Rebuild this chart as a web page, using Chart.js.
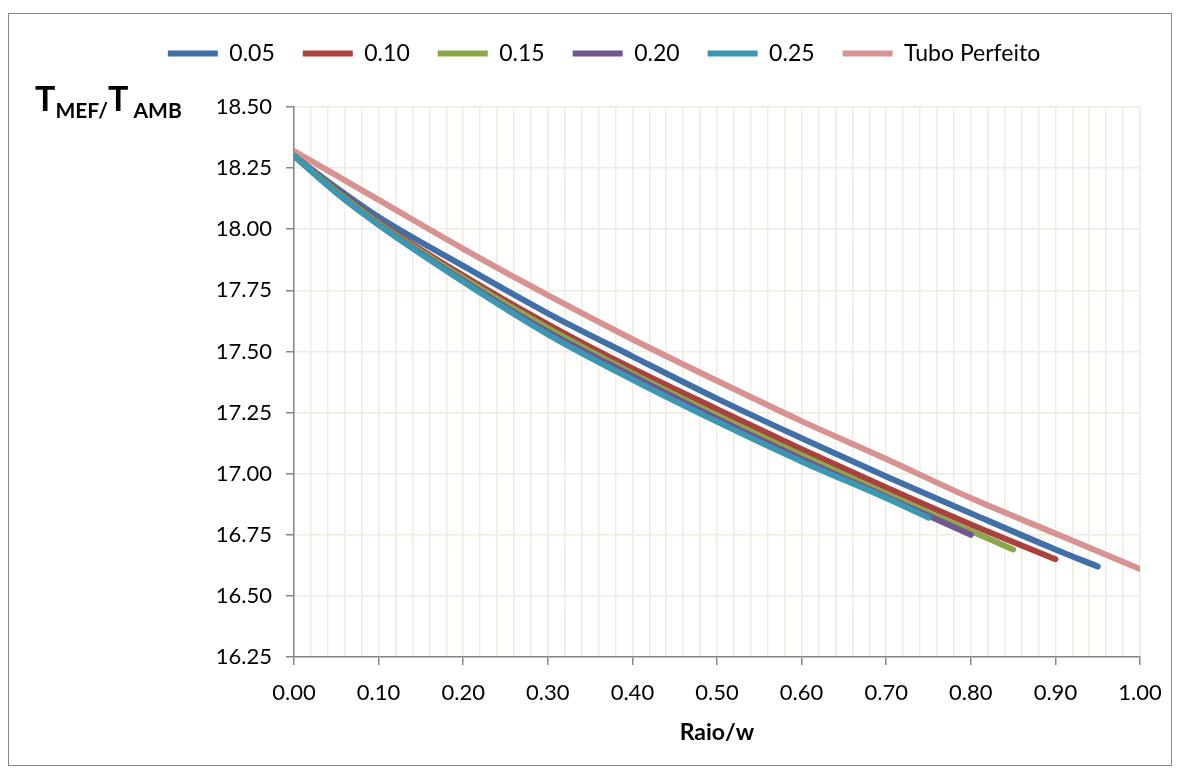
<!DOCTYPE html>
<html>
<head>
<meta charset="utf-8">
<script src="https://cdn.jsdelivr.net/npm/chart.js@4.4.1/dist/chart.umd.min.js"></script>
<style>
html, body { margin: 0; padding: 0; background: #fff; }
</style>
</head>
<body>
<canvas id="tempChart" width="1181" height="774"></canvas>
<script>
// values
const seriesNames = ['0.05', '0.10', '0.15', '0.20', '0.25', 'Tubo Perfeito'];

const raio005 = [0, 0.05, 0.10, 0.20, 0.30, 0.40, 0.50, 0.60, 0.70, 0.80, 0.90, 0.95];
const temp005 = [18.30, 18.17, 18.05, 17.85, 17.656, 17.48, 17.307, 17.145, 16.988, 16.838, 16.69, 16.62];

const raio010 = [0, 0.05, 0.10, 0.20, 0.30, 0.40, 0.50, 0.60, 0.70, 0.80, 0.90];
const temp010 = [18.30, 18.16, 18.03, 17.81, 17.611, 17.43, 17.264, 17.10, 16.943, 16.792, 16.65];

const raio015 = [0, 0.05, 0.10, 0.20, 0.30, 0.40, 0.50, 0.60, 0.70, 0.80, 0.85];
const temp015 = [18.30, 18.155, 18.025, 17.80, 17.595, 17.41, 17.238, 17.075, 16.917, 16.765, 16.69];

const raio020 = [0, 0.05, 0.10, 0.20, 0.30, 0.40, 0.50, 0.60, 0.70, 0.80];
const temp020 = [18.30, 18.15, 18.02, 17.79, 17.58, 17.40, 17.225, 17.06, 16.905, 16.75];

const raio025 = [0, 0.05, 0.10, 0.20, 0.30, 0.40, 0.50, 0.60, 0.70, 0.75];
const temp025 = [18.30, 18.15, 18.018, 17.785, 17.57, 17.385, 17.213, 17.05, 16.90, 16.82];

const raioTubo = [0, 0.10, 0.20, 0.30, 0.40, 0.50, 0.60, 0.70, 0.80, 0.90, 1.00];
const tempTubo = [18.32, 18.12, 17.92, 17.73, 17.55, 17.38, 17.215, 17.06, 16.90, 16.755, 16.61];

const yTicks = [16.25, 16.50, 16.75, 17.00, 17.25, 17.50, 17.75, 18.00, 18.25, 18.50];

const colors = ['#4170a8', '#a9413e', '#8aa84b', '#71568f', '#3d97b0', '#d69391'];
const allRaio = [raio005, raio010, raio015, raio020, raio025, raioTubo];
const allTemp = [temp005, temp010, temp015, temp020, temp025, tempTubo];
// later series sit on top, the tube curve sits underneath
const drawOrder = [5, 4, 3, 2, 1, 6];

const fontFamily = 'Lato, "Open Sans", sans-serif';
const axisGray = '#868686';
const gridColor = '#eeebe1';

function isMajor(v) {
  return Math.abs(Math.round(v * 10) - v * 10) < 1e-6;
}

const datasets = seriesNames.map((name, i) => ({
  label: name,
  data: allRaio[i].map((r, k) => ({ x: r, y: allTemp[i][k] })),
  borderColor: colors[i],
  backgroundColor: colors[i],
  borderWidth: 6,
  borderCapStyle: 'round',
  pointRadius: 0,
  cubicInterpolationMode: 'monotone',
  order: drawOrder[i]
}));

const frame = {
  id: 'frame',
  afterDraw(chart) {
    const c = chart.ctx;
    c.save();
    c.strokeStyle = '#8a8a8a';
    c.lineWidth = 1;
    c.strokeRect(8.5, 13.5, 1163, 752);

    // y axis title with subscripts
    c.fillStyle = '#000';
    c.textBaseline = 'alphabetic';
    const parts = [['T', 34, 0], ['MEF/', 21, 7], ['T', 34, 0], [' AMB', 21, 7]];
    let x = 35;
    parts.forEach(([t, size, dy]) => {
      c.font = 'bold ' + size + 'px ' + fontFamily;
      c.fillText(t, x, 111 + dy);
      x += c.measureText(t).width;
    });
    c.restore();
  }
};

new Chart(document.getElementById('tempChart'), {
  type: 'line',
  data: { datasets: datasets },
  plugins: [frame],
  options: {
    responsive: false,
    animation: false,
    layout: { padding: { left: 68, right: 41, top: 14, bottom: 28 } },
    plugins: {
      tooltip: { enabled: false },
      legend: {
        position: 'top',
        weight: 3000,
        labels: {
          usePointStyle: true,
          pointStyle: 'line',
          pointStyleWidth: 50,
          color: '#000',
          padding: 28,
          font: { size: 23, family: fontFamily },
          sort: (a, b) => a.datasetIndex - b.datasetIndex
        }
      },
      // empty spacer between legend and plot
      title: {
        display: true,
        text: '',
        font: { size: 10 },
        padding: { top: 20, bottom: 0 }
      }
    },
    scales: {
      x: {
        type: 'linear',
        min: 0,
        max: 1,
        afterFit: scale => { scale.height = 89; },
        ticks: {
          stepSize: 0.02,
          autoSkip: false,
          maxRotation: 0,
          padding: 15,
          color: '#000',
          font: { size: 22, family: fontFamily },
          callback: v => isMajor(v) ? v.toFixed(2) : ''
        },
        grid: {
          color: gridColor,
          lineWidth: 1.5,
          tickLength: 8,
          tickWidth: 1.5,
          tickColor: ctx => (ctx.tick && isMajor(ctx.tick.value)) ? axisGray : 'rgba(0,0,0,0)'
        },
        border: { color: axisGray, width: 1.5 },
        title: {
          display: true,
          text: 'Raio/w',
          color: '#000',
          font: { size: 23, weight: 'bold', family: fontFamily },
          padding: { top: 14, bottom: 0 }
        }
      },
      y: {
        min: yTicks[0],
        max: yTicks[yTicks.length - 1],
        afterBuildTicks: scale => { scale.ticks = yTicks.map(v => ({ value: v })); },
        afterFit: scale => { scale.width = 226; },
        ticks: {
          padding: 14,
          color: '#000',
          font: { size: 22, family: fontFamily },
          callback: v => v.toFixed(2)
        },
        grid: {
          color: gridColor,
          lineWidth: 1.5,
          tickLength: 8,
          tickWidth: 1.5,
          tickColor: axisGray
        },
        border: { color: axisGray, width: 1.5 }
      }
    }
  }
});
</script>
</body>
</html>
